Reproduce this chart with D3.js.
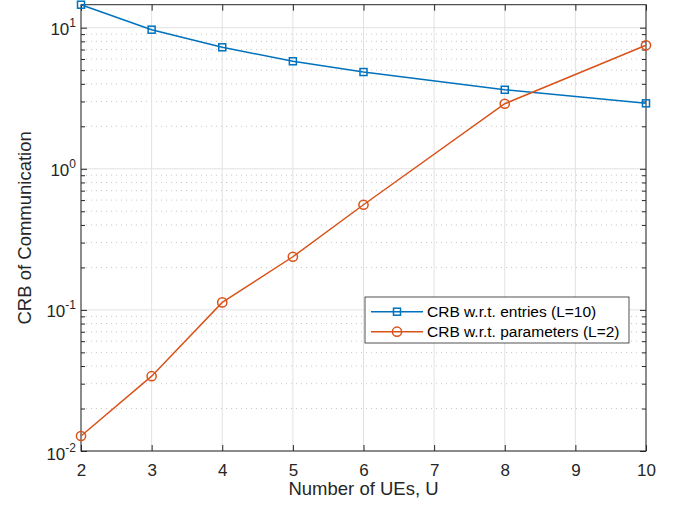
<!DOCTYPE html>
<html>
<head>
<meta charset="utf-8">
<script src="https://cdn.jsdelivr.net/npm/d3@7"></script>
<style>
  body { margin: 0; background: #fff; }
  svg { display: block; font-family: "Liberation Sans", Arial, Helvetica, sans-serif; }
</style>
</head>
<body>
<div id="chart"></div>
<script>
// values
const users = [2, 3, 4, 5, 6, 8, 10];
const crbEntries = [14.55, 9.68, 7.26, 5.78, 4.85, 3.63, 2.91];
const crbParams = [0.01277, 0.0339, 0.113, 0.238, 0.556, 2.89, 7.50];
const xTicks = [2, 3, 4, 5, 6, 7, 8, 9, 10];
const yDecades = [-2, -1, 0, 1];
const yLimits = [0.01, 14.55];
const seriesNames = ["CRB w.r.t. entries (L=10)", "CRB w.r.t. parameters (L=2)"];

const width = 683, height = 511;
const margin = { top: 4.7, right: 37, bottom: 60, left: 81 };
const innerWidth = width - margin.left - margin.right;
const innerHeight = height - margin.top - margin.bottom;
const axisColor = "#262626";
const blue = "#0072BD", orange = "#D95319";

const svg = d3.select("#chart").append("svg")
    .attr("width", width)
    .attr("height", height);
const g = svg.append("g")
    .attr("transform", `translate(${margin.left},${margin.top})`);

const x = d3.scaleLinear().domain([2, 10]).range([0, innerWidth]);
const y = d3.scaleLog().domain(yLimits).range([innerHeight, 0]);

// minor ticks 2..9 of every decade inside the limits
const minorTicks = [];
yDecades.forEach(p => {
    for (let k = 2; k <= 9; k++) {
        const v = k * Math.pow(10, p);
        if (v > yLimits[0] && v < yLimits[1]) minorTicks.push(v);
    }
});
const majorTicks = yDecades.map(p => Math.pow(10, p));

// grid
const grid = g.append("g");
grid.selectAll(".minor").data(minorTicks).join("line")
    .attr("x1", 0).attr("x2", innerWidth)
    .attr("y1", d => y(d)).attr("y2", d => y(d))
    .attr("stroke", "#c8c8c8").attr("stroke-width", 1)
    .attr("stroke-dasharray", "1,4");
grid.selectAll(".vmajor").data(xTicks).join("line")
    .attr("x1", d => x(d)).attr("x2", d => x(d))
    .attr("y1", 0).attr("y2", innerHeight)
    .attr("stroke", "#e2e2e2").attr("stroke-width", 1);
grid.selectAll(".hmajor").data(majorTicks).join("line")
    .attr("x1", 0).attr("x2", innerWidth)
    .attr("y1", d => y(d)).attr("y2", d => y(d))
    .attr("stroke", "#e2e2e2").attr("stroke-width", 1);

// axes: ticks pointing inward on all four sides
const noText = a => { a.select(".domain").remove(); a.selectAll(".tick text").remove(); };
g.append("g")
    .attr("transform", `translate(0,${innerHeight})`)
    .call(d3.axisBottom(x).tickValues(xTicks).tickSize(-6).tickPadding(13).tickFormat(d3.format("d")))
    .call(a => a.select(".domain").remove());
g.append("g")
    .call(d3.axisTop(x).tickValues(xTicks).tickSize(-6))
    .call(noText);
g.append("g")
    .call(d3.axisLeft(y).tickValues(majorTicks).tickSize(-6))
    .call(noText);
g.append("g")
    .call(d3.axisLeft(y).tickValues(minorTicks).tickSize(-4))
    .call(noText);
g.append("g")
    .attr("transform", `translate(${innerWidth},0)`)
    .call(d3.axisRight(y).tickValues(majorTicks).tickSize(-6))
    .call(noText);
g.append("g")
    .attr("transform", `translate(${innerWidth},0)`)
    .call(d3.axisRight(y).tickValues(minorTicks).tickSize(-4))
    .call(noText);

g.selectAll(".tick line").attr("stroke", axisColor);
g.selectAll(".tick text")
    .attr("fill", axisColor)
    .style("font-size", "17px")
    .style("font-family", "\"Liberation Sans\", Arial, Helvetica, sans-serif");

// y labels as 10 with superscript exponent
const yLab = g.append("g");
yDecades.forEach(p => {
    const t = yLab.append("text")
        .attr("x", -5)
        .attr("y", y(Math.pow(10, p)) + (p === yDecades[0] ? 9 : 7))
        .attr("text-anchor", "end")
        .attr("fill", axisColor)
        .style("font-size", "17px");
    t.append("tspan").text("10");
    t.append("tspan").attr("dy", -8).style("font-size", "12px").text(p);
});

// box
g.append("rect")
    .attr("width", innerWidth).attr("height", innerHeight)
    .attr("fill", "none").attr("stroke", axisColor).attr("stroke-width", 1);

// axis titles
g.append("text")
    .attr("x", innerWidth / 2).attr("y", innerHeight + 44)
    .attr("text-anchor", "middle").attr("fill", axisColor)
    .style("font-size", "18.5px")
    .text("Number of UEs, U");
g.append("text")
    .attr("transform", `translate(${-margin.left + 31},${innerHeight / 2}) rotate(-90)`)
    .attr("text-anchor", "middle").attr("fill", axisColor)
    .style("font-size", "18.5px")
    .text("CRB of Communication");

// series
const line = d3.line().x(d => x(d[0])).y(d => y(d[1]));
const entries = users.map((u, i) => [u, crbEntries[i]]);
const params = users.map((u, i) => [u, crbParams[i]]);

g.append("path").datum(entries)
    .attr("d", line).attr("fill", "none").attr("stroke", blue).attr("stroke-width", 1.5);
g.selectAll(".sq").data(entries).join("rect")
    .attr("x", d => x(d[0]) - 3.5).attr("y", d => y(d[1]) - 3.5)
    .attr("width", 7).attr("height", 7)
    .attr("fill", "none").attr("stroke", blue).attr("stroke-width", 1.5);

g.append("path").datum(params)
    .attr("d", line).attr("fill", "none").attr("stroke", orange).attr("stroke-width", 1.5);
g.selectAll(".ci").data(params).join("circle")
    .attr("cx", d => x(d[0])).attr("cy", d => y(d[1])).attr("r", 4.6)
    .attr("fill", "none").attr("stroke", orange).attr("stroke-width", 1.5);

// legend
const legend = svg.append("g").attr("transform", "translate(365,297)");
legend.append("rect")
    .attr("width", 264).attr("height", 46)
    .attr("fill", "#fff").attr("stroke", axisColor).attr("stroke-width", 0.8);
[blue, orange].forEach((c, i) => {
    const row = legend.append("g").attr("transform", `translate(0,${14.7 + i * 20})`);
    row.append("line").attr("x1", 6).attr("x2", 58)
        .attr("stroke", c).attr("stroke-width", 1.5);
    if (i === 0) {
        row.append("rect").attr("x", 28.5).attr("y", -3.5).attr("width", 7).attr("height", 7)
            .attr("fill", "none").attr("stroke", c).attr("stroke-width", 1.5);
    } else {
        row.append("circle").attr("cx", 32).attr("r", 4.6)
            .attr("fill", "none").attr("stroke", c).attr("stroke-width", 1.5);
    }
    row.append("text").attr("x", 62).attr("y", 5.5)
        .attr("fill", "#000").style("font-size", "15.5px")
        .text(seriesNames[i]);
});
</script>
</body>
</html>
